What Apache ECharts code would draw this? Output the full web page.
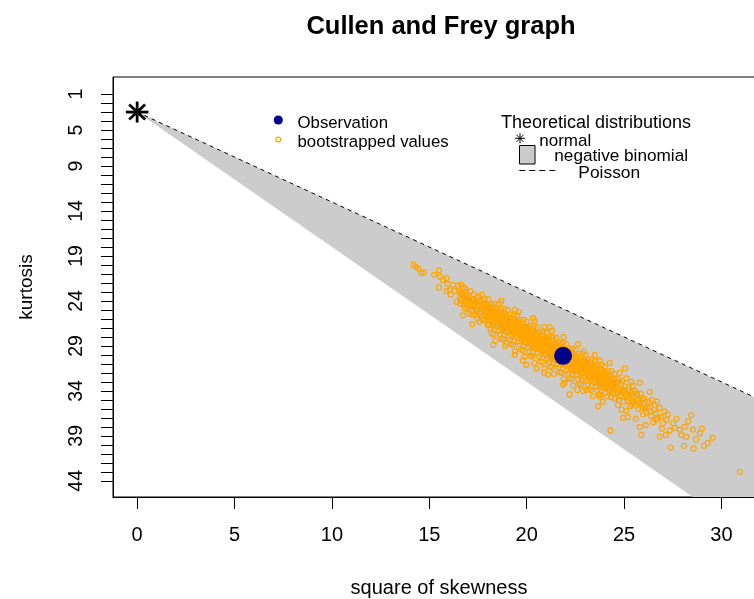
<!DOCTYPE html>
<html><head><meta charset="utf-8"><title>Cullen and Frey graph</title>
<script src="https://cdn.jsdelivr.net/npm/echarts@6.0.0/dist/echarts.min.js"></script>
<style>html,body{margin:0;padding:0;background:#fff}#chart{width:754px;height:599px}</style>
</head><body><div id="chart"></div>
<script>
const chartTitle = 'Cullen and Frey graph';
const xAxisName = 'square of skewness';
const yAxisName = 'kurtosis';
const xTickValues = [0, 5, 10, 15, 20, 25, 30];
const yTickValues = [1,2,3,4,5,6,7,8,9,10,11,12,13,14,15,16,17,18,19,20,21,22,23,24,25,26,27,28,29,30,31,32,33,34,35,36,37,38,39,40,41,42,43,44];
const yTickLabels = [1, 5, 9, 14, 19, 24, 29, 34, 39, 44];
const normalPoint = [0, 3];
const poissonLine = [[0, 3], [40, 43]];
const negbinRegion = [[0, 3], [40, 43], [40, 63]];
const observation = [21.87, 30.1];
const bootstrapped = [
[14.18,20.0],[14.31,20.2],[14.43,20.4],[14.6,20.9],[14.72,20.8],[15.25,21.1],[15.5,20.6],[15.54,21.3],[15.71,21.7],[15.88,21.5],[15.5,22.5],[15.88,22.9],[16.05,22.8],[16.22,22.2],[16.48,22.3],[16.65,22.2],[16.73,25.6],[16.57,23.5],[16.4,24.1],[15.95,22.1],[16.3,22.9],[16.1,23.3],[16.85,23.0],[16.9,23.9],
[16.52,22.9],[16.61,23.8],[16.7,23.2],[16.78,24.4],[16.83,22.6],[16.9,23.6],[16.95,24.9],[16.58,24.3],[16.74,22.5],[16.88,24.1],
[17.02,23.4],[17.08,24.2],[17.12,22.9],[17.15,25.1],[17.2,23.8],[17.24,24.6],[17.3,23.3],[17.33,25.6],[17.38,24.0],[17.42,24.9],[17.46,23.6],[17.05,25.4],[17.28,24.3],[17.48,26.0],
[17.52,23.5],[17.55,24.5],[17.6,25.3],[17.63,23.9],[17.68,24.9],[17.72,26.1],[17.75,24.2],[17.8,25.6],[17.84,23.8],[17.88,24.8],[17.92,25.9],[17.95,24.4],[17.98,26.6],[17.58,26.3],[17.7,23.3],
[16.62,23.1],[16.68,24.0],[16.76,23.7],[16.82,24.8],[16.93,23.3],[16.98,24.4],[17.04,23.9],[17.1,24.7],[17.18,24.3],[17.22,25.5],[17.27,23.9],[17.35,24.5],[17.4,25.2],[17.45,24.2],[17.5,25.0],[17.57,24.0],[17.62,24.7],[17.66,25.7],[17.73,24.6],[17.78,25.1],[17.83,26.0],[17.86,24.3],[17.91,25.3],[17.97,25.0],
[18.02,23.8],[18.17,24.3],[18.08,24.7],[18.22,25.0],[18.12,25.3],[18.04,25.5],[18.19,25.7],[18.10,26.0],[18.24,26.3],[18.06,26.7],[18.14,27.1],[18.20,27.6],
[18.36,24.3],[18.28,24.8],[18.46,25.1],[18.32,25.4],[18.41,25.7],[18.48,25.9],[18.26,26.1],[18.38,26.4],[18.43,26.8],[18.34,27.2],[18.30,27.7],[18.40,28.4],
[18.52,24.4],[18.67,24.9],[18.58,25.3],[18.72,25.6],[18.62,25.9],[18.54,26.1],[18.69,26.3],[18.60,26.6],[18.74,26.9],[18.56,27.3],[18.64,27.7],[18.70,28.2],
[18.86,24.9],[18.78,25.4],[18.96,25.7],[18.82,26.0],[18.91,26.3],[18.98,26.5],[18.76,26.7],[18.88,27.0],[18.93,27.4],[18.84,27.8],[18.80,28.3],[18.90,29.0],
[19.02,25.0],[19.17,25.5],[19.08,25.9],[19.22,26.2],[19.12,26.5],[19.04,26.7],[19.19,26.9],[19.10,27.2],[19.24,27.5],[19.06,27.9],[19.14,28.3],[19.20,28.8],
[19.36,25.5],[19.28,26.0],[19.46,26.3],[19.32,26.6],[19.41,26.9],[19.48,27.1],[19.26,27.3],[19.38,27.6],[19.43,28.0],[19.34,28.4],[19.30,28.9],[19.40,29.6],
[19.52,25.6],[19.67,26.1],[19.58,26.5],[19.72,26.8],[19.62,27.1],[19.54,27.3],[19.69,27.5],[19.60,27.8],[19.74,28.1],[19.56,28.5],[19.64,28.9],[19.70,29.4],
[19.86,26.1],[19.78,26.6],[19.96,26.9],[19.82,27.2],[19.91,27.5],[19.98,27.7],[19.76,27.9],[19.88,28.2],[19.93,28.6],[19.84,29.0],[19.80,29.5],[19.90,30.2],
[20.02,26.3],[20.17,26.8],[20.08,27.2],[20.22,27.5],[20.12,27.8],[20.04,28.0],[20.19,28.2],[20.10,28.5],[20.24,28.8],[20.06,29.2],[20.14,29.6],[20.20,30.1],
[20.36,26.8],[20.28,27.3],[20.46,27.6],[20.32,27.9],[20.41,28.2],[20.48,28.4],[20.26,28.6],[20.38,28.9],[20.43,29.3],[20.34,29.7],[20.30,30.2],[20.40,30.9],
[20.52,26.9],[20.67,27.4],[20.58,27.8],[20.72,28.1],[20.62,28.4],[20.54,28.6],[20.69,28.8],[20.60,29.1],[20.74,29.4],[20.56,29.8],[20.64,30.2],[20.70,30.7],
[20.86,27.4],[20.78,27.9],[20.96,28.2],[20.82,28.5],[20.91,28.8],[20.98,29.0],[20.76,29.2],[20.88,29.5],[20.93,29.9],[20.84,30.3],[20.80,30.8],[20.90,31.5],
[21.02,27.5],[21.17,28.0],[21.08,28.4],[21.22,28.7],[21.12,29.0],[21.04,29.2],[21.19,29.4],[21.10,29.7],[21.24,30.0],[21.06,30.4],[21.14,30.8],[21.20,31.3],
[21.36,28.0],[21.28,28.5],[21.46,28.8],[21.32,29.1],[21.41,29.4],[21.48,29.6],[21.26,29.8],[21.38,30.1],[21.43,30.5],[21.34,30.9],[21.30,31.4],[21.40,32.1],
[21.52,28.1],[21.67,28.6],[21.58,29.0],[21.72,29.3],[21.62,29.6],[21.54,29.8],[21.69,30.0],[21.60,30.3],[21.74,30.6],[21.56,31.0],[21.64,31.4],[21.70,31.9],
[21.86,28.6],[21.78,29.1],[21.96,29.4],[21.82,29.7],[21.91,30.0],[21.98,30.2],[21.76,30.4],[21.88,30.7],[21.93,31.1],[21.84,31.5],[21.80,32.0],[21.90,32.7],
[22.02,28.8],[22.17,29.3],[22.08,29.7],[22.22,30.0],[22.12,30.3],[22.04,30.5],[22.19,30.7],[22.10,31.0],[22.24,31.3],[22.06,31.7],[22.14,32.1],[22.20,32.6],
[22.36,29.3],[22.28,29.8],[22.46,30.1],[22.32,30.4],[22.41,30.7],[22.48,30.9],[22.26,31.1],[22.38,31.4],[22.43,31.8],[22.34,32.2],[22.30,32.7],[22.40,33.4],
[22.52,29.4],[22.67,29.9],[22.58,30.3],[22.72,30.6],[22.62,30.9],[22.54,31.1],[22.69,31.3],[22.60,31.6],[22.74,31.9],[22.56,32.3],[22.64,32.7],[22.70,33.2],
[22.86,29.9],[22.78,30.4],[22.96,30.7],[22.82,31.0],[22.91,31.3],[22.98,31.5],[22.76,31.7],[22.88,32.0],[22.93,32.4],[22.84,32.8],[22.80,33.3],[22.90,34.0],
[23.02,30.0],[23.17,30.5],[23.08,30.9],[23.22,31.2],[23.12,31.5],[23.04,31.7],[23.19,31.9],[23.10,32.2],[23.24,32.5],[23.06,32.9],[23.14,33.3],[23.20,33.8],
[23.36,30.5],[23.28,31.0],[23.46,31.3],[23.32,31.6],[23.41,31.9],[23.48,32.1],[23.26,32.3],[23.38,32.6],[23.43,33.0],[23.34,33.4],[23.30,33.9],[23.40,34.6],
[23.52,30.6],[23.67,31.1],[23.58,31.5],[23.72,31.8],[23.62,32.1],[23.54,32.3],[23.69,32.5],[23.60,32.8],[23.74,33.1],[23.56,33.5],[23.64,33.9],[23.70,34.4],
[23.86,31.1],[23.78,31.6],[23.96,31.9],[23.82,32.2],[23.91,32.5],[23.98,32.7],[23.76,32.9],[23.88,33.2],[23.93,33.6],[23.84,34.0],[23.80,34.5],[23.90,35.2],
[24.02,31.3],[24.17,31.8],[24.08,32.2],[24.22,32.5],[24.12,32.8],[24.04,33.0],[24.19,33.2],[24.10,33.5],[24.24,33.8],[24.06,34.2],[24.14,34.6],
[24.36,31.8],[24.28,32.3],[24.46,32.6],[24.32,32.9],[24.41,33.2],[24.48,33.4],[24.26,33.6],[24.38,33.9],[24.43,34.3],[24.34,34.7],
[18.05,24.5],[18.13,24.9],[18.21,25.2],[18.09,25.5],[18.16,25.9],[18.01,26.2],
[18.30,24.8],[18.38,25.2],[18.46,25.5],[18.34,25.8],[18.41,26.2],[18.26,26.5],
[18.55,25.1],[18.63,25.5],[18.71,25.8],[18.59,26.1],[18.66,26.5],[18.51,26.8],
[18.80,25.4],[18.88,25.8],[18.96,26.1],[18.84,26.4],[18.91,26.8],[18.76,27.1],
[19.05,25.7],[19.13,26.1],[19.21,26.4],[19.09,26.8],[19.16,27.1],[19.01,27.5],
[19.30,26.0],[19.38,26.4],[19.46,26.7],[19.34,27.1],[19.41,27.4],[19.26,27.8],
[19.55,26.3],[19.63,26.7],[19.71,27.0],[19.59,27.4],[19.66,27.7],[19.51,28.1],
[19.80,26.6],[19.88,27.0],[19.96,27.3],[19.84,27.7],[19.91,28.0],[19.76,28.4],
[20.05,27.0],[20.13,27.4],[20.21,27.7],[20.09,28.0],[20.16,28.4],[20.01,28.7],
[20.30,27.3],[20.38,27.7],[20.46,28.0],[20.34,28.3],[20.41,28.7],[20.26,29.0],
[20.55,27.6],[20.63,28.0],[20.71,28.3],[20.59,28.6],[20.66,29.0],[20.51,29.3],
[20.80,27.9],[20.88,28.3],[20.96,28.6],[20.84,28.9],[20.91,29.3],[20.76,29.6],
[21.05,28.2],[21.13,28.6],[21.21,28.9],[21.09,29.3],[21.16,29.6],[21.01,30.0],
[21.30,28.5],[21.38,28.9],[21.46,29.2],[21.34,29.6],[21.41,29.9],[21.26,30.3],
[21.55,28.8],[21.63,29.2],[21.71,29.5],[21.59,29.9],[21.66,30.2],[21.51,30.6],
[21.80,29.1],[21.88,29.5],[21.96,29.8],[21.84,30.2],[21.91,30.5],[21.76,30.9],
[22.05,29.5],[22.13,29.9],[22.21,30.2],[22.09,30.5],[22.16,30.9],[22.01,31.2],
[22.30,29.8],[22.38,30.2],[22.46,30.5],[22.34,30.8],[22.41,31.2],[22.26,31.5],
[22.55,30.1],[22.63,30.5],[22.71,30.8],[22.59,31.1],[22.66,31.5],[22.51,31.8],
[22.80,30.4],[22.88,30.8],[22.96,31.1],[22.84,31.4],[22.91,31.8],[22.76,32.1],
[23.05,30.7],[23.13,31.1],[23.21,31.4],[23.09,31.8],[23.16,32.1],[23.01,32.5],
[23.30,31.0],[23.38,31.4],[23.46,31.7],[23.34,32.1],[23.41,32.4],[23.26,32.8],
[23.55,31.3],[23.63,31.7],[23.71,32.0],[23.59,32.4],[23.66,32.7],[23.51,33.1],
[23.80,31.6],[23.88,32.0],[23.96,32.3],[23.84,32.7],[23.91,33.0],[23.76,33.4],
[24.05,32.0],[24.13,32.4],[24.21,32.7],[24.09,33.0],[24.16,33.4],[24.01,33.7],
[24.30,32.3],[24.38,32.7],[24.46,33.0],[24.34,33.3],[24.41,33.7],[24.26,34.0],
[21.03,28.8],[21.15,29.8],[21.27,29.2],[21.35,30.4],[21.45,29.9],[21.53,29.4],[21.61,30.6],[21.73,30.2],[21.95,30.9],[22.07,30.1],[22.15,29.6],[22.27,30.6],[22.39,31.6],[22.45,30.4],
[19.39,30.0],[19.99,31.1],[20.5,31.5],[21.87,33.3],[18.96,28.7],[19.8,30.6],[21.1,32.2],[22.6,33.9],[23.07,33.9],[23.75,34.6],[20.9,32.0],[17.2,26.6],[18.3,28.9],[18.7,24.0],[19.6,25.2],[20.4,26.2],[21.3,27.3],[22.64,28.8],[22.93,29.6],[23.5,30.0],[23.75,30.6],[21.9,28.0],[20.9,26.9],[20.33,25.9],[21.19,26.9],[19.39,25.0],[18.62,24.3],[22.21,34.4],[21.96,33.1],[23.66,35.7],
[24.27,30.9],[25.04,31.5],[24.78,32.0],[25.38,33.0],[25.81,33.1],[26.32,34.1],[26.23,35.2],[26.58,35.6],[26.83,35.9],[27.09,36.3],[26.75,37.0],[27.18,37.2],[27.52,37.6],[27.6,38.1],[27.86,38.3],[28.12,38.0],[28.46,36.7],[28.54,38.3],[28.89,38.7],[29.54,39.2],[29.11,40.1],[28.58,40.4],[28.07,40.1],[27.4,40.3],[26.83,39.1],[25.89,38.9],[24.3,38.4],[24.95,37.0],[25.2,36.9],[25.81,38.0],[30.94,43.0],
[24.52,32.1],[24.58,33.0],[24.63,33.6],[24.67,34.2],[24.71,32.7],[24.74,35.0],[24.8,33.4],[24.85,34.6],[24.9,32.9],[24.96,33.9],[24.55,34.9],[24.69,35.6],[24.88,36.1],
[25.02,33.5],[25.08,34.4],[25.12,32.6],[25.18,35.1],[25.22,33.9],[25.28,34.8],[25.33,35.7],[25.4,34.2],[25.45,33.4],[25.5,35.3],[25.1,36.2],
[25.55,34.0],[25.62,35.0],[25.68,34.5],[25.73,36.0],[25.78,35.4],[25.85,34.3],[25.92,35.8],[25.97,36.6],[25.6,37.1],
[24.55,33.4],[24.6,34.1],[24.65,33.0],[24.72,33.9],[24.78,34.6],[24.83,33.2],[24.92,34.2],[24.98,35.2],[25.05,34.0],[25.15,34.7],[25.25,33.6],[25.35,34.5],[25.42,35.5],[25.48,34.6],[25.58,35.6],[25.65,34.3],[25.75,35.1],[25.88,35.5],[25.95,34.8],[26.06,36.0],[26.2,35.8],[26.35,36.3],[26.55,36.1],[26.66,37.2],
[26.04,34.9],[26.1,35.9],[26.16,36.4],[26.28,35.4],[26.4,36.8],[26.45,35.0],[26.5,37.5],[26.12,37.8],[26.62,36.5],
[26.7,35.2],[26.9,36.9],[27.0,37.6],[27.25,36.6],[27.35,38.4],[27.7,37.1],[27.95,38.9],[28.2,39.1],[28.3,37.4],[28.7,39.4],[29.0,38.2],[29.3,39.8],[27.15,38.9],[26.95,38.2]
];

const FONT = "'Liberation Sans', Arial, Helvetica, sans-serif";
const chart = echarts.init(document.getElementById('chart'), null, {renderer: 'canvas'});

function txt(text, x, y, size, opts) {
  opts = opts || {};
  return {
    type: 'text', x: x, y: y, rotation: opts.rotation || 0, silent: true,
    style: {
      text: text, fill: '#000', fontSize: size, fontFamily: FONT,
      fontWeight: opts.bold ? 'bold' : 'normal',
      align: opts.align || 'left', verticalAlign: 'middle',
      textAlign: opts.align || 'left', textVerticalAlign: 'middle'
    }
  };
}
function star(cx, cy, hx, hy, dx, dy, lw) {
  const s = {stroke: '#000', lineWidth: lw};
  return [
    {type: 'line', shape: {x1: cx - hx, y1: cy, x2: cx + hx, y2: cy}, style: s},
    {type: 'line', shape: {x1: cx, y1: cy - hy, x2: cx, y2: cy + hy}, style: s},
    {type: 'line', shape: {x1: cx - dx, y1: cy - dy, x2: cx + dx, y2: cy + dy}, style: s},
    {type: 'line', shape: {x1: cx - dx, y1: cy + dy, x2: cx + dx, y2: cy - dy}, style: s}
  ];
}

const legendGraphics = [
  {type: 'circle', shape: {cx: 278.3, cy: 120, r: 4.6}, style: {fill: '#00008B'}, silent: true},
  {type: 'circle', shape: {cx: 278.3, cy: 139.5, r: 2.4}, style: {fill: 'none', stroke: '#FFA500', lineWidth: 1.2}, silent: true},
  txt('Observation', 297.5, 123, 16.8),
  txt('bootstrapped values', 297.5, 142, 16.8),
  txt('Theoretical distributions', 501, 123.3, 18),
  {type: 'group', silent: true, children: star(520, 138.3, 5, 5, 3.6, 3.6, 1)},
  txt('normal', 539.3, 141.6, 17),
  {type: 'rect', shape: {x: 519.5, y: 145.5, width: 15.5, height: 18.5}, style: {fill: '#CCCCCC', stroke: '#000', lineWidth: 1}, silent: true},
  txt('negative binomial', 554.3, 156.5, 17.2),
  {type: 'line', shape: {x1: 519.3, y1: 170.5, x2: 558.3, y2: 170.5}, style: {stroke: '#000', lineWidth: 1, lineDash: [6, 4]}, silent: true},
  txt('Poisson', 578.3, 173, 17.4)
];

const option = {
  backgroundColor: '#fff',
  animation: false,
  graphic: [
    txt(chartTitle, 441, 27, 25.5, {align: 'center', bold: true}),
    txt(xAxisName, 439, 588, 20, {align: 'center'}),
    txt(yAxisName, 27, 287, 19, {align: 'center', rotation: Math.PI / 2})
  ].concat(legendGraphics),
  grid: {left: 113, top: 77, right: -11, bottom: 102, show: true, borderColor: '#000', borderWidth: 1, containLabel: false, outerBoundsMode: 'none'},
  xAxis: {
    type: 'value', min: -1.24, max: 32.24,
    axisLine: {show: true, onZero: false, lineStyle: {color: '#000', width: 1}},
    axisTick: {show: true, length: 12, lineStyle: {color: '#000', width: 1}, customValues: xTickValues},
    axisLabel: {show: true, customValues: xTickValues, color: '#000', fontSize: 20, fontFamily: FONT, margin: 28},
    splitLine: {show: false}
  },
  yAxis: {
    type: 'value', inverse: true, min: -0.9, max: 45.8,
    axisLine: {show: true, onZero: false, lineStyle: {color: '#000', width: 1}},
    axisTick: {show: true, length: 12, lineStyle: {color: '#000', width: 1}, customValues: yTickValues},
    axisLabel: {show: true, customValues: yTickLabels, rotate: 90, color: '#000', fontSize: 19.5, fontFamily: FONT, margin: 26},
    splitLine: {show: false}
  },
  series: [
    {
      type: 'custom', name: 'negative binomial', clip: true, silent: true, z: 1,
      data: [negbinRegion[0]],
      renderItem: function (params, api) {
        const pts = negbinRegion.map(function (p) { return api.coord(p); });
        return {type: 'polygon', shape: {points: pts}, style: {fill: '#CCCCCC', stroke: 'none'}};
      }
    },
    {
      type: 'line', name: 'Poisson', data: poissonLine, symbol: 'none', clip: true, silent: true, z: 2,
      lineStyle: {color: '#000', width: 1, type: [4, 4]}
    },
    {
      type: 'custom', name: 'normal', silent: true, z: 3, clip: false,
      data: [normalPoint],
      renderItem: function (params, api) {
        const c = api.coord([api.value(0), api.value(1)]);
        return {type: 'group', children: star(c[0], c[1], 11.3, 10.5, 8, 7.5, 2.8)};
      }
    },
    {
      type: 'scatter', name: 'bootstrapped values', data: bootstrapped, symbol: 'circle', symbolSize: 5, silent: true, z: 4,
      itemStyle: {color: 'rgba(0,0,0,0)', borderColor: '#FFA500', borderWidth: 1.2, opacity: 1}
    },
    {
      type: 'scatter', name: 'Observation', data: [observation], symbol: 'circle', symbolSize: 18, silent: true, z: 5,
      itemStyle: {color: '#00008B', opacity: 1}
    }
  ]
};
chart.setOption(option);
</script></body></html>
